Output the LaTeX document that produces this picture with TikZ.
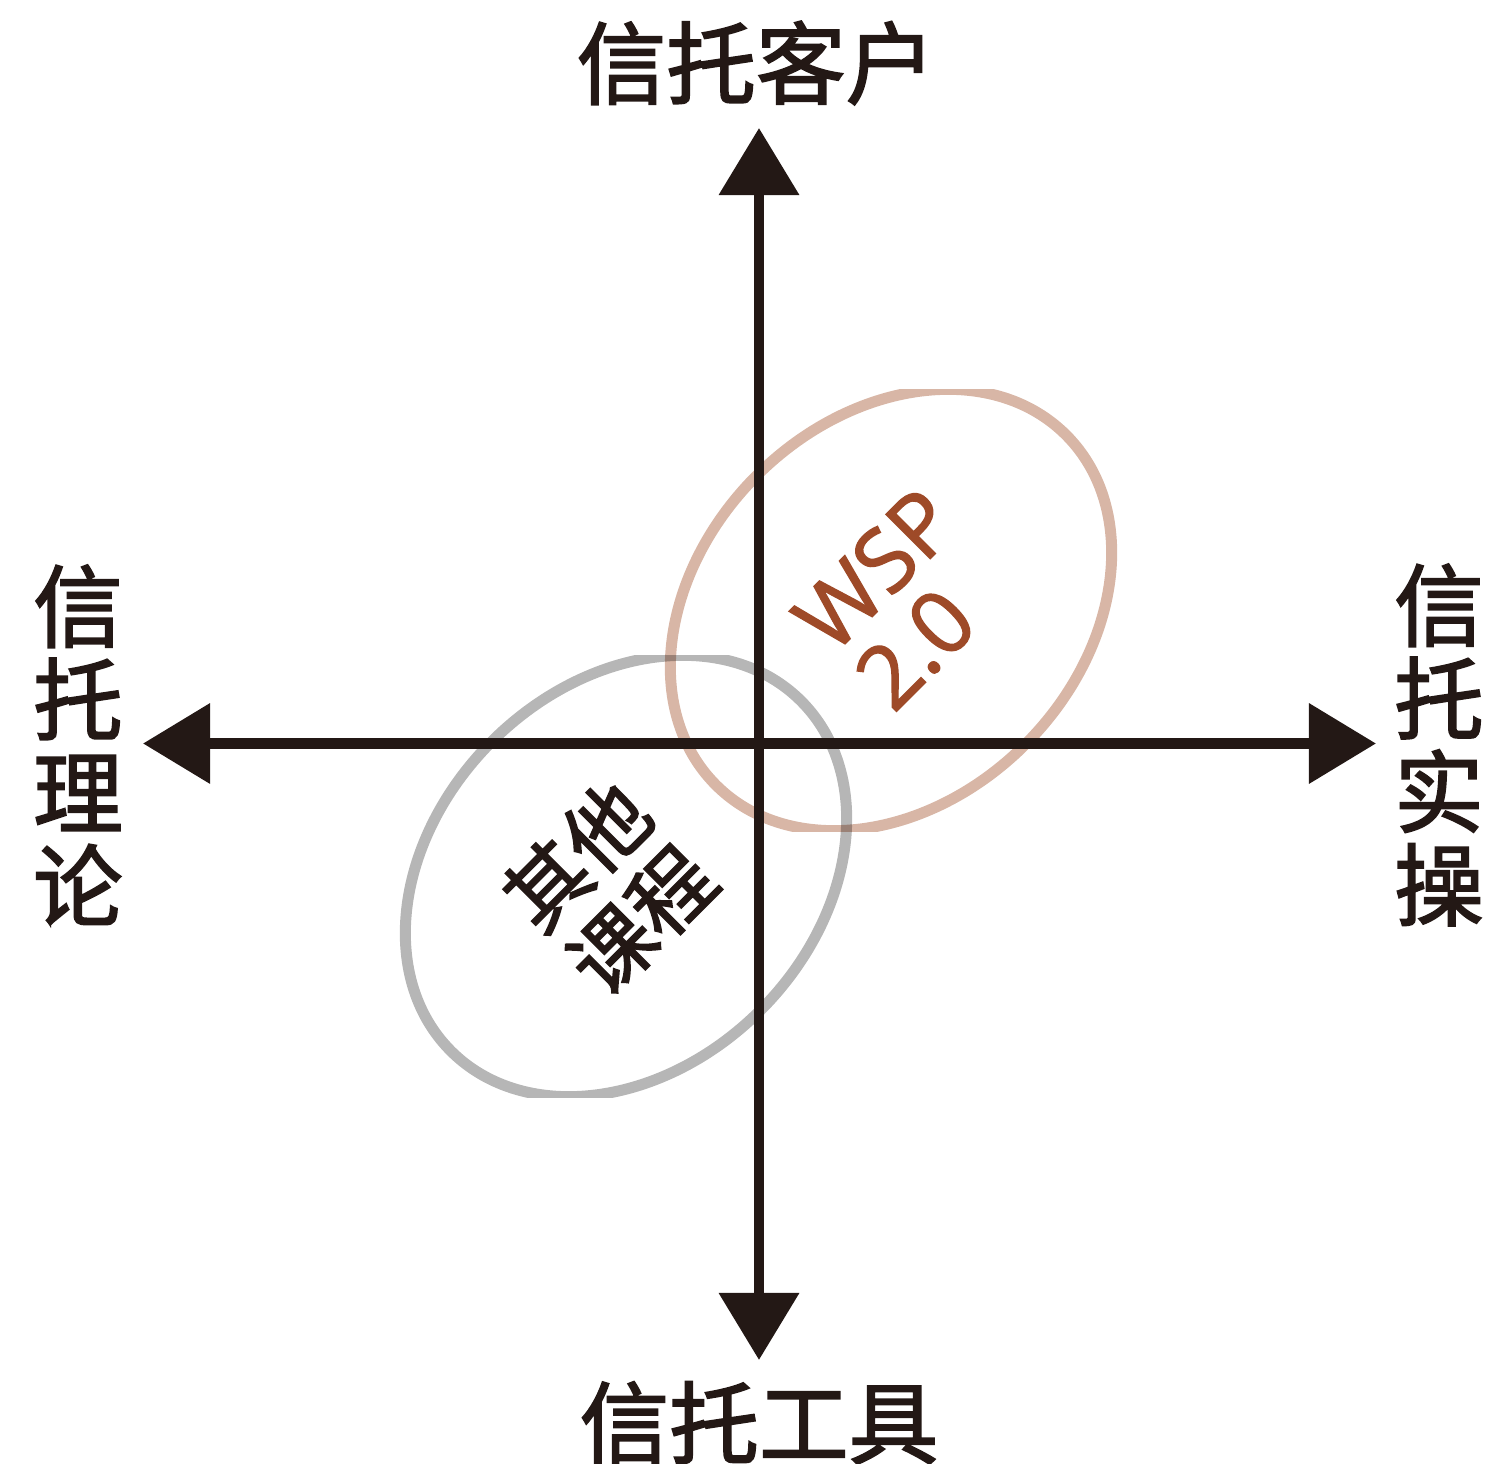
\documentclass[tikz,border=0pt]{standalone}
\usepackage{fontspec}
\newfontfamily\cjk[FakeBold=2]{Noto Sans CJK SC}
\newfontfamily\latin[FakeBold=1.5]{Open Sans}
\usetikzlibrary{arrows.meta}
\definecolor{axisblack}{RGB}{35,24,21}
\definecolor{wspbrown}{RGB}{158,74,40}
\definecolor{ringbrown}{RGB}{216,182,166}
\definecolor{ringgray}{RGB}{182,182,182}
\tikzset{
  axis/.style={draw=axisblack, line width=0.105cm,
    {Triangle[length=0.67cm,width=0.78cm]}-{Triangle[length=0.67cm,width=0.78cm]}},
  ring/.style={line width=0.11cm, blend mode=multiply},
  biglabel/.style={inner sep=0pt, text=axisblack, font=\cjk\fontsize{25.5pt}{26.5pt}\selectfont},
  vlabel/.style={biglabel, align=center},
  wsptext/.style={inner sep=0pt, text=wspbrown, rotate=45, anchor=base west,
    font=\latin\fontsize{25pt}{25pt}\selectfont},
  othertext/.style={inner sep=0pt, text=axisblack, rotate=45, align=center,
    font=\cjk\fontsize{23.5pt}{26pt}\selectfont},
}
\begin{document}
\begin{tikzpicture}[x=0.01cm,y=-0.01cm]
\useasboundingbox (0,0) rectangle (1487,1464);
% rings
\begin{scope}
  \clip (0,390) rectangle (1487,832);
  \draw[ring, draw=ringbrown] (891,610) ellipse [x radius=2.474cm, y radius=1.899cm, rotate=45];
\end{scope}
\begin{scope}
  \clip (0,656) rectangle (1487,1097);
  \draw[ring, draw=ringgray] (626,876) ellipse [x radius=2.474cm, y radius=1.899cm, rotate=45];
\end{scope}
% axes
\coordinate (ytop) at (759,128);
\coordinate (ybot) at (759,1360);
\coordinate (xleft) at (143,743.5);
\coordinate (xright) at (1376,743.5);
\draw[axis] (ybot) -- (ytop);
\draw[axis] (xleft) -- (xright);
% labels
\node[biglabel] (client) at (756,63) {信托客户};
\node[biglabel] (tool) at (759,1423) {信托工具};
\node[vlabel] (theory) at (78,745) {信\\托\\理\\论};
\node[vlabel] (practice) at (1439,745) {信\\托\\实\\操};
% ring texts
\node[wsptext] (wsp) at (832,657) {WSP};
\node[wsptext] (ver) at (893,715) {2.0};
\node[othertext] (other) at (609,888) {其他\\课程};
\end{tikzpicture}
\end{document}
